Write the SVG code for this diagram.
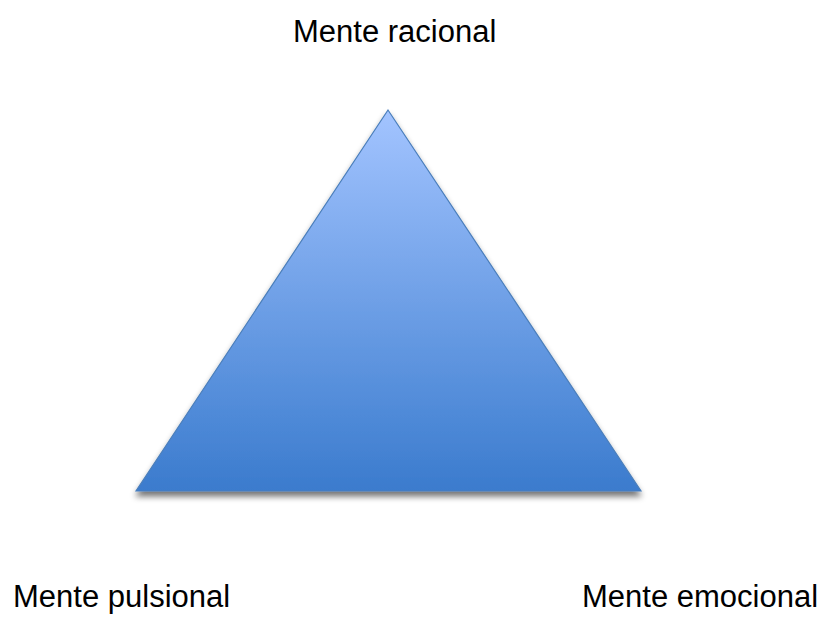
<svg xmlns="http://www.w3.org/2000/svg" width="825" height="617" viewBox="0 0 825 617">
<defs>
<linearGradient id="g" x1="0" y1="0" x2="0" y2="1">
<stop offset="0" stop-color="#a3c4ff"/>
<stop offset="0.8" stop-color="#4f8ad8"/>
<stop offset="1" stop-color="#3b7bcd"/>
</linearGradient>
<filter id="sh" x="-10%" y="-10%" width="120%" height="130%">
<feGaussianBlur in="SourceAlpha" stdDeviation="3"/>
<feOffset dy="5"/>
<feComponentTransfer><feFuncA type="linear" slope="0.55"/></feComponentTransfer>
<feMerge><feMergeNode/><feMergeNode in="SourceGraphic"/></feMerge>
</filter>
<style>
text{font-family:"Liberation Sans",Arial,sans-serif;font-size:31px;fill:#000}
</style>
</defs>
<rect width="825" height="617" fill="#fff"/>
<g id="triangle">
<polygon points="388,110 136,491 641,491" fill="url(#g)" stroke="#4a7ebb" stroke-width="1.2" filter="url(#sh)"/>
</g>
<g id="racional"><text x="293" y="42">Mente racional</text></g>
<g id="pulsional"><text x="13" y="607">Mente pulsional</text></g>
<g id="emocional"><text x="582" y="607">Mente emocional</text></g>
<g id="connectors"/>
</svg>
